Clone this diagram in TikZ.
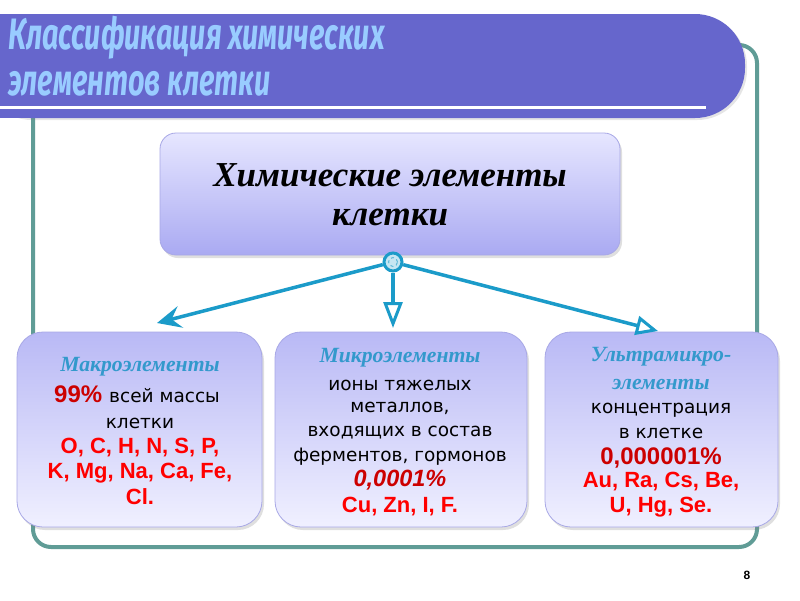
\documentclass[tikz,border=0pt]{standalone}
\usepackage{fontspec}
\usepackage{graphicx}
\setmainfont{Liberation Serif}
\newfontfamily\titlef{Fira Sans}
\newfontfamily\arialf{Liberation Sans}
\newfontfamily\handf{DejaVu Sans}
\usetikzlibrary{arrows.meta,shadows}
\definecolor{banner}{HTML}{6666CC}
\definecolor{titlec}{HTML}{99CCFF}
\definecolor{framec}{HTML}{609C96}
\definecolor{arrowc}{HTML}{1B9BC9}
\definecolor{headc}{HTML}{3399CC}
\definecolor{boxtop}{HTML}{E6E6FF}
\definecolor{boxbot}{HTML}{AAAAF2}
\definecolor{boxline}{HTML}{A8A8E6}
\definecolor{darkred}{HTML}{CC0000}
\definecolor{redc}{HTML}{FF0000}
\tikzset{
  topbox/.style={rounded corners=16pt, draw=boxline, line width=0.8pt,
    top color=boxtop, bottom color=boxbot,
    drop shadow={shadow xshift=2pt, shadow yshift=-3pt, opacity=0.25}},
  lowbox/.style={rounded corners=26pt, draw=boxline, line width=0.8pt,
    top color=boxbot!75!boxtop, bottom color=boxtop!60!white,
    drop shadow={shadow xshift=2pt, shadow yshift=-3pt, opacity=0.25}},
  head/.style={font=\fontsize{21.7}{24}\selectfont\bfseries\itshape, text=headc, inner sep=0pt},
  hand/.style={font=\handf\fontsize{18.5}{21}\selectfont, text=black, inner sep=0pt},
  elem/.style={font=\arialf\fontsize{22}{24}\selectfont\bfseries, text=redc, inner sep=0pt},
  pct/.style={font=\arialf\fontsize{23.5}{25}\selectfont\bfseries\itshape, text=darkred, inner sep=0pt},
  fancy/.style={font=\arialf\fontsize{24}{26}\selectfont\bfseries, text=red!80!black, inner sep=0pt},
  conn/.style={draw=arrowc, line width=3.5pt},
  titletext/.style={anchor=west, inner sep=0pt, text=titlec, font=\titlef\fontsize{44}{48}\selectfont\bfseries\itshape},
}
\begin{document}
\begin{tikzpicture}[x=1pt,y=-1pt]
\useasboundingbox (0,0) rectangle (800,600);
\fill[white] (0,0) rectangle (800,600);
% frame
\draw[framec, line width=4pt, rounded corners=18pt] (33,45) rectangle (757,547);
% banner
\fill[banner, drop shadow={shadow xshift=2pt, shadow yshift=-2pt, opacity=0.2}, rounded corners=50pt] (-20,14) -- (745,14) -- (745,118) -- (-20,118) [sharp corners] -- cycle;
\fill[banner] (0,14) rectangle (40,118);
\draw[white, line width=3pt] (0,107) -- (706,107);
\node[titletext] (t1) at (8,38) {\scalebox{0.655}[1]{Классификация химических}};
\node[titletext] (t2) at (8,84) {\scalebox{0.655}[1]{элементов клетки}};
% top box
\node[topbox, minimum width=460pt, minimum height=122pt] (top) at (390,194) {};
\node[inner sep=0pt, font=\fontsize{35}{38}\selectfont\bfseries\itshape] (tl1) at (390,175) {Химические элементы};
\node[inner sep=0pt, font=\fontsize{35}{38}\selectfont\bfseries\itshape] (tl2) at (390,217) {клетки};
% bottom boxes
\node[lowbox, minimum width=245pt, minimum height=195pt] (macro) at (139.5,429.5) {};
\node[lowbox, minimum width=252pt, minimum height=195pt] (micro) at (401,429.5) {};
\node[lowbox, minimum width=233pt, minimum height=195pt] (ultra) at (661.5,429.5) {};
% macro text
\node[head] (m1) at (140,367) {Макроэлементы};
\node[inner sep=0pt] (m2) at (137,394) {\tikz[baseline]{\node[fancy,anchor=base] (m2a) {99\%};}\hspace{7pt}\tikz[baseline]{\node[hand,anchor=base] (m2b) {всей массы};}};
\node[hand] (m3) at (140,423) {клетки};
\node[elem] (m4) at (140,448) {O, C, H, N, S, P,};
\node[elem] (m5) at (140,473) {K, Mg, Na, Ca, Fe,};
\node[elem] (m6) at (140,497) {Cl.};
% micro text
\node[head] (c1) at (400,358) {Микроэлементы};
\node[hand] (c2) at (400,385) {ионы тяжелых};
\node[hand] (c3) at (400,408) {металлов,};
\node[hand] (c4) at (400,433) {входящих в состав};
\node[hand] (c5) at (400,457) {ферментов, гормонов};
\node[pct] (c6) at (400,480) {0,0001\%};
\node[elem] (c7) at (400,507) {Cu, Zn, I, F.};
% ultra text
\node[head] (u1) at (661,357) {Ультрамикро-};
\node[head] (u2) at (661,384) {элементы};
\node[hand] (u3) at (661,410) {концентрация};
\node[hand] (u4) at (661,433) {в клетке};
\node[fancy] (u5) at (661,458) {0,000001\%};
\node[elem] (u6) at (661,482) {Au, Ra, Cs, Be,};
\node[elem] (u7) at (661,507) {U, Hg, Se.};
% connectors
\coordinate (lt) at (157,323);
\coordinate (mt) at (393,328);
\coordinate (rt) at (658,331);
\node[circle, draw=arrowc, line width=3pt, fill=arrowc!25, minimum size=18pt, inner sep=0pt] (knot) at (393,262) {};
\draw[conn, -{Stealth[length=24pt,width=22pt,inset=9pt]}] (knot) -- (lt);
\draw[conn, -{Triangle[open,length=26pt,width=19pt,line width=3pt]}] (knot) -- (mt);
\draw[conn, -{Triangle[open,length=22pt,width=19pt,line width=3pt]}] (knot) -- (rt);
\draw[arrowc!70!white, line width=1pt, dashed] (knot.center) circle (4.5pt);
% page number
\node[inner sep=0pt, font=\arialf\fontsize{12}{14}\selectfont\bfseries] (pg) at (747,575) {8};
\end{tikzpicture}
\end{document}
